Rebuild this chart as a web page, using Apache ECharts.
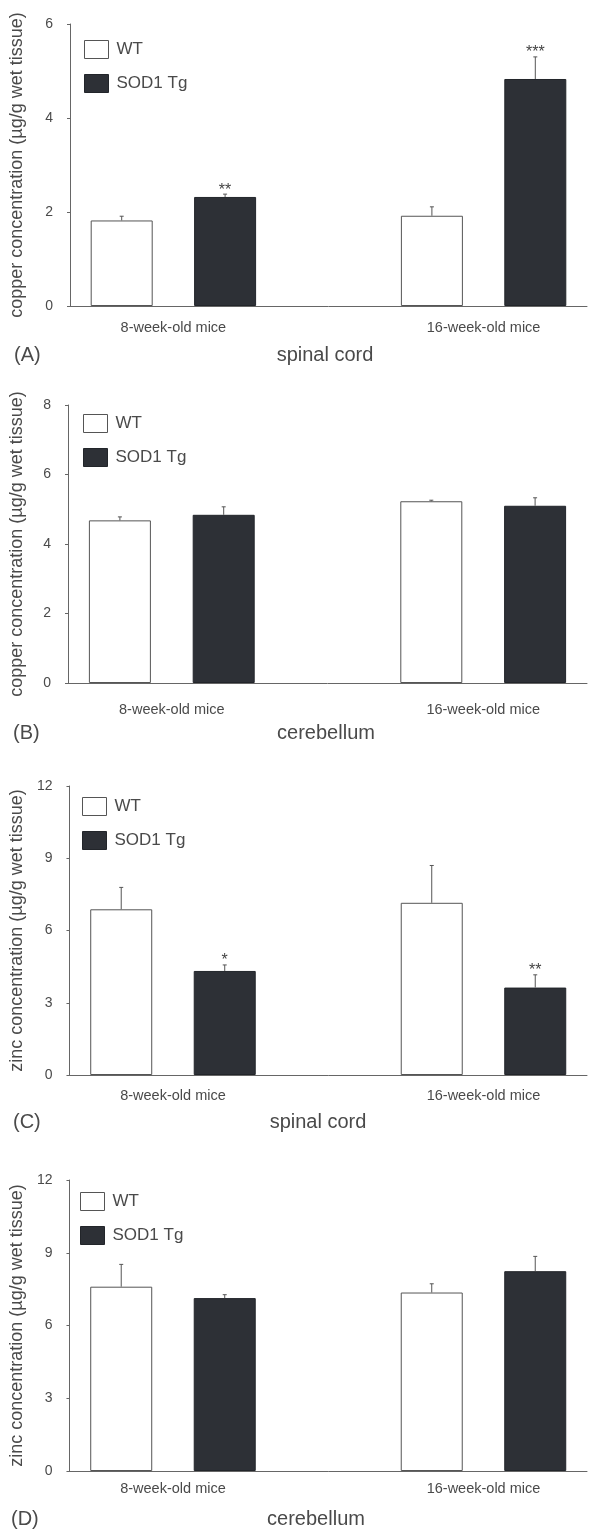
<!DOCTYPE html>
<html>
<head>
<meta charset="utf-8">
<script src="https://cdn.jsdelivr.net/npm/echarts@6/dist/echarts.min.js"></script>
<style>
	html, body { margin: 0; padding: 0; background: #fff; overflow: hidden; }
	#main { width: 590px; height: 1530px; }
</style>
</head>
<body>
<div id="main"></div>
<script>
// slots on the x axis: WT, SOD1 Tg, gap, WT, SOD1 Tg
var slots = ['8w WT', '8w SOD1 Tg', 'gap', '16w WT', '16w SOD1 Tg'];
var tickLabels = ['', '8-week-old mice', '', '', '16-week-old mice', ''];
var seriesNames = ['WT', 'SOD1 Tg'];

// (A) copper, spinal cord
var cuSpinalWT = [1.82, 1.92];
var cuSpinalWTErr = [0.09, 0.19];
var cuSpinalTg = [2.32, 4.83];
var cuSpinalTgErr = [0.06, 0.47];
var cuSpinalSig = ['**', '***'];

// (B) copper, cerebellum
var cuCereWT = [4.68, 5.23];
var cuCereWTErr = [0.10, 0.03];
var cuCereTg = [4.84, 5.10];
var cuCereTgErr = [0.23, 0.23];
var cuCereSig = ['', ''];

// (C) zinc, spinal cord
var znSpinalWT = [6.88, 7.15];
var znSpinalWTErr = [0.91, 1.55];
var znSpinalTg = [4.32, 3.63];
var znSpinalTgErr = [0.25, 0.53];
var znSpinalSig = ['*', '**'];

// (D) zinc, cerebellum
var znCereWT = [7.60, 7.36];
var znCereWTErr = [0.92, 0.36];
var znCereTg = [7.13, 8.24];
var znCereTgErr = [0.14, 0.61];
var znCereSig = ['', ''];

var textColor = '#4a4a4a';
var axisColor = '#666';
var darkBar = '#2d3036';
var font = '"Liberation Sans", Arial, sans-serif';

var panels = [
	{ wt: cuSpinalWT, wtErr: cuSpinalWTErr, tg: cuSpinalTg, tgErr: cuSpinalTgErr, sig: cuSpinalSig,
	  max: 6, interval: 2, yName: 'copper concentration (\u00b5g/g wet tissue)',
	  letter: '(A)', region: 'spinal cord',
	  grid: { left: 68, top: 24, width: 526, height: 282 }, labelMargin: 14, nameGap: 44,
	  legendLeft: 79, legendTop: 35, letterX: 14, letterY: 355, regionX: 325 },
	{ wt: cuCereWT, wtErr: cuCereWTErr, tg: cuCereTg, tgErr: cuCereTgErr, sig: cuCereSig,
	  max: 8, interval: 2, yName: 'copper concentration (\u00b5g/g wet tissue)',
	  letter: '(B)', region: 'cerebellum',
	  grid: { left: 65, top: 405, width: 526, height: 278 }, labelMargin: 19, nameGap: 42,
	  legendLeft: 78, legendTop: 409, letterX: 13, letterY: 733, regionX: 326 },
	{ wt: znSpinalWT, wtErr: znSpinalWTErr, tg: znSpinalTg, tgErr: znSpinalTgErr, sig: znSpinalSig,
	  max: 12, interval: 3, yName: 'zinc concentration (\u00b5g/g wet tissue)',
	  letter: '(C)', region: 'spinal cord',
	  grid: { left: 65, top: 786, width: 524, height: 289 }, labelMargin: 13, nameGap: 42,
	  legendLeft: 77, legendTop: 792, letterX: 13, letterY: 1122, regionX: 318 },
	{ wt: znCereWT, wtErr: znCereWTErr, tg: znCereTg, tgErr: znCereTgErr, sig: znCereSig,
	  max: 12, interval: 3, yName: 'zinc concentration (\u00b5g/g wet tissue)',
	  letter: '(D)', region: 'cerebellum',
	  grid: { left: 63, top: 1180, width: 525, height: 291 }, labelMargin: 10, nameGap: 41,
	  legendLeft: 75, legendTop: 1187, letterX: 11, letterY: 1519, regionX: 316 }
];

//误差线 + 显著性星号
function errorRender(sigs) {
	return function(params, api) {
		var v = api.value(1);
		var e = api.value(2);
		var p0 = api.coord([api.value(0), v]);
		var p1 = api.coord([api.value(0), v + e]);
		var lineStyle = { stroke: '#555', lineWidth: 1 };
		var children = [
			{ type: 'line', shape: { x1: p0[0], y1: p0[1], x2: p1[0], y2: p1[1] }, style: lineStyle },
			{ type: 'line', shape: { x1: p1[0] - 2, y1: p1[1], x2: p1[0] + 2, y2: p1[1] }, style: lineStyle }
		];
		var sig = sigs ? sigs[params.dataIndex] : '';
		if (sig) {
			children.push({ type: 'text', x: p1[0], y: p1[1] - 4,
				style: { text: sig, font: '16px ' + font, fill: '#444', textAlign: 'center', textVerticalAlign: 'middle' } });
		}
		return { type: 'group', children: children };
	};
}

var grids = [], xAxes = [], yAxes = [], series = [], legends = [], graphics = [];

for (var i = 0; i < panels.length; i++) {
	var p = panels[i];
	grids.push(p.grid);
	// 柱子所在的类目轴
	xAxes.push({
		gridIndex: i, type: 'category', data: slots, position: 'bottom',
		axisLine: { lineStyle: { color: axisColor, width: 1 } },
		axisTick: { inside: true, length: 4, lineStyle: { color: axisColor } },
		axisLabel: { show: false }
	});
	// 分组标签轴
	xAxes.push({
		gridIndex: i, type: 'category', data: tickLabels, position: 'bottom', boundaryGap: false,
		axisLine: { show: false }, axisTick: { show: false }, splitLine: { show: false },
		axisLabel: { interval: 0, margin: p.labelMargin, color: textColor, fontSize: 14.5, fontFamily: font }
	});
	yAxes.push({
		gridIndex: i, type: 'value', min: 0, max: p.max, interval: p.interval,
		name: p.yName, nameLocation: 'middle', nameGap: p.nameGap, nameRotate: 90,
		nameTextStyle: { color: textColor, fontSize: 18, fontFamily: font },
		axisLine: { show: true, lineStyle: { color: axisColor, width: 1 } },
		axisTick: { show: true, length: 3, lineStyle: { color: axisColor } },
		axisLabel: { color: textColor, fontSize: 14, fontFamily: font, margin: 17 },
		splitLine: { show: false }
	});
	series.push({
		name: seriesNames[0], type: 'bar', xAxisIndex: i * 2, yAxisIndex: i,
		data: [p.wt[0], '-', '-', p.wt[1], '-'], barWidth: 62, barGap: '-100%', silent: true,
		itemStyle: { color: '#fff', borderColor: '#555', borderWidth: 1 }
	});
	series.push({
		name: seriesNames[1], type: 'bar', xAxisIndex: i * 2, yAxisIndex: i,
		data: ['-', p.tg[0], '-', '-', p.tg[1]], barWidth: 62, barGap: '-100%', silent: true,
		itemStyle: { color: darkBar, borderColor: '#22252a', borderWidth: 1 }
	});
	series.push({
		type: 'custom', xAxisIndex: i * 2, yAxisIndex: i, silent: true, z: 5,
		renderItem: errorRender(null),
		data: [[0, p.wt[0], p.wtErr[0]], [3, p.wt[1], p.wtErr[1]]]
	});
	series.push({
		type: 'custom', xAxisIndex: i * 2, yAxisIndex: i, silent: true, z: 5,
		renderItem: errorRender(p.sig),
		data: [[1, p.tg[0], p.tgErr[0]], [4, p.tg[1], p.tgErr[1]]]
	});
	legends.push({
		orient: 'vertical', left: p.legendLeft, top: p.legendTop,
		itemWidth: 24, itemHeight: 18, itemGap: 15, icon: 'rect', selectedMode: false,
		textStyle: { color: textColor, fontSize: 17, lineHeight: 18, fontFamily: font, padding: [0, 0, 0, 3] },
		data: [
			{ name: seriesNames[0], itemStyle: { color: '#fff', borderColor: '#555', borderWidth: 1 } },
			{ name: seriesNames[1], itemStyle: { color: darkBar, borderColor: '#22252a', borderWidth: 1 } }
		]
	});
	graphics.push({ type: 'text', x: p.letterX, y: p.letterY,
		style: { text: p.letter, font: '20px ' + font, fill: textColor, textAlign: 'left', textVerticalAlign: 'middle' } });
	graphics.push({ type: 'text', x: p.regionX, y: p.letterY,
		style: { text: p.region, font: '20px ' + font, fill: textColor, textAlign: 'center', textVerticalAlign: 'middle' } });
}

var chart = echarts.init(document.getElementById('main'), null, { renderer: 'canvas' });
chart.setOption({
	animation: false,
	backgroundColor: '#fff',
	grid: grids,
	xAxis: xAxes,
	yAxis: yAxes,
	legend: legends,
	graphic: graphics,
	series: series
});
</script>
</body>
</html>
